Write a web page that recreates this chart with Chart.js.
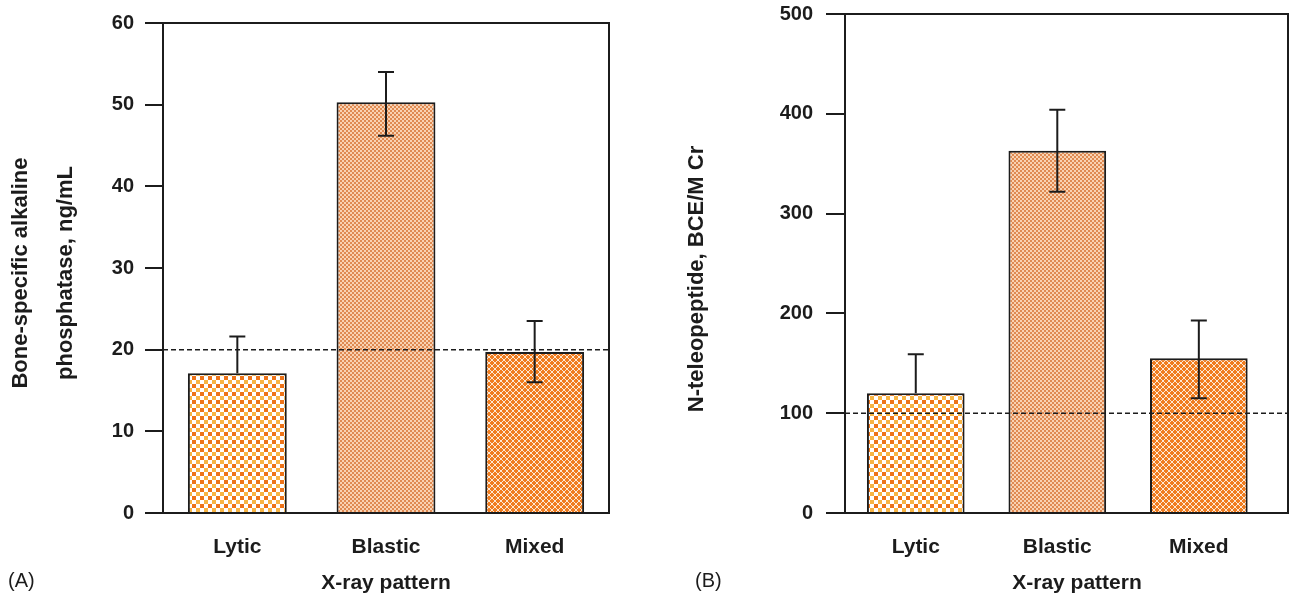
<!DOCTYPE html>
<html>
<head>
<meta charset="utf-8">
<script src="https://cdn.jsdelivr.net/npm/chart.js@4.4.1/dist/chart.umd.min.js"></script>
<style>
  html, body { margin: 0; padding: 0; background: #fff; }
  #chartA { position: absolute; left: 0; top: 0; }
  #chartB { position: absolute; left: 650px; top: 0; }
</style>
</head>
<body>
<canvas id="chartA" width="640" height="599"></canvas>
<canvas id="chartB" width="639" height="599"></canvas>
<script>
// data
const categories = ["Lytic", "Blastic", "Mixed"];

const bsapMeans = [17.1, 50.3, 19.7];
const bsapErrHigh = [21.6, 54.0, 23.5];
const bsapErrLow = [null, 46.2, 16.0]; // lytic lower whisker hidden in bar
const bsapRef = 20;
const bsapTicks = [0, 10, 20, 30, 40, 50, 60];

const ntxMeans = [120, 363, 155];
const ntxErrHigh = [159, 404, 193];
const ntxErrLow = [null, 322, 115];
const ntxRef = 100;
const ntxTicks = [0, 100, 200, 300, 400, 500];

const ink = "#1c1c1c";
const fontFamily = "'Liberation Sans', Arial, sans-serif";

// fill patterns for the three bars
function makePattern(size, draw) {
  const c = document.createElement("canvas");
  c.width = size;
  c.height = size;
  const g = c.getContext("2d");
  draw(g);
  return document.getElementById("chartA").getContext("2d").createPattern(c, "repeat");
}

const lyticPattern = makePattern(8, (g) => {
  g.fillStyle = "#ffffff";
  g.fillRect(0, 0, 8, 8);
  g.fillStyle = "#ee7418";
  g.fillRect(0, 0, 4, 4);
  g.fillStyle = "#f8b443";
  g.fillRect(4, 4, 4, 4);
});

const blasticPattern = makePattern(4, (g) => {
  g.fillStyle = "#f9d2b2";
  g.fillRect(0, 0, 4, 4);
  g.fillStyle = "#df8a52";
  g.fillRect(0, 0, 2, 2);
  g.fillRect(2, 2, 2, 2);
});

const mixedPattern = makePattern(6, (g) => {
  g.fillStyle = "#f07c1e";
  g.fillRect(0, 0, 6, 6);
  g.fillStyle = "#fde8d4";
  for (let i = 0; i < 6; i++) {
    g.fillRect(i, i, 1, 1);
    g.fillRect(5 - i, i, 1, 1);
  }
});

const barFills = [lyticPattern, blasticPattern, mixedPattern];

// error bars, reference line, frame and the hand-placed texts
function extrasPlugin(cfg) {
  return {
    id: "extras",
    afterDatasetsDraw(chart) {
      const ctx = chart.ctx;
      const area = chart.chartArea;
      const y = chart.scales.y;
      const meta = chart.getDatasetMeta(0);
      ctx.save();

      // dashed reference line
      ctx.strokeStyle = ink;
      ctx.lineWidth = 1.5;
      ctx.setLineDash([5, 3]);
      const ry = y.getPixelForValue(cfg.ref);
      ctx.beginPath();
      ctx.moveTo(area.left, ry);
      ctx.lineTo(area.right, ry);
      ctx.stroke();
      ctx.setLineDash([]);

      // error bars
      ctx.lineWidth = 2;
      meta.data.forEach((bar, i) => {
        const yHi = y.getPixelForValue(cfg.high[i]);
        const low = cfg.low[i];
        const yLo = low == null ? y.getPixelForValue(cfg.means[i]) : y.getPixelForValue(low);
        ctx.beginPath();
        ctx.moveTo(bar.x, yHi);
        ctx.lineTo(bar.x, yLo);
        ctx.moveTo(bar.x - 8, yHi);
        ctx.lineTo(bar.x + 8, yHi);
        if (low != null) {
          ctx.moveTo(bar.x - 8, yLo);
          ctx.lineTo(bar.x + 8, yLo);
        }
        ctx.stroke();
      });

      // top and right frame
      ctx.beginPath();
      ctx.moveTo(area.left, area.top);
      ctx.lineTo(area.right, area.top);
      ctx.lineTo(area.right, area.bottom);
      ctx.stroke();

      // axis titles
      ctx.fillStyle = ink;
      ctx.textAlign = "center";
      ctx.textBaseline = "middle";
      ctx.font = "bold 22px " + fontFamily;
      cfg.yTitle.forEach((line, k) => {
        ctx.save();
        ctx.translate(cfg.yTitleX[k], cfg.yTitleY);
        ctx.rotate(-Math.PI / 2);
        ctx.fillText(line, 0, 0);
        ctx.restore();
      });
      ctx.font = "bold 21px " + fontFamily;
      ctx.fillText("X-ray pattern", cfg.xTitleX, 583);

      ctx.textAlign = "left";
      ctx.font = "20px " + fontFamily;
      ctx.fillText(cfg.panel, cfg.panelX, 581);
      ctx.restore();
    }
  };
}

function axisFont(size) {
  return { family: fontFamily, size: size, weight: "bold" };
}

// drop the label overhang padding so the layout padding sets the plot top
function noOverhang(s) {
  s.paddingTop = 0;
  s.paddingBottom = 0;
}

// (A) bone-specific alkaline phosphatase
new Chart(document.getElementById("chartA"), {
  type: "bar",
  data: {
    labels: categories,
    datasets: [{
      data: bsapMeans,
      backgroundColor: barFills,
      borderColor: ink,
      borderWidth: 2,
      borderSkipped: "bottom",
      barPercentage: 0.665,
      categoryPercentage: 1
    }]
  },
  options: {
    responsive: false,
    animation: false,
    layout: { padding: { top: 23, right: 31, left: 0, bottom: 0 } },
    plugins: { legend: { display: false }, tooltip: { enabled: false } },
    scales: {
      x: {
        grid: { display: false, drawTicks: false },
        border: { display: true, color: ink, width: 2 },
        ticks: { color: ink, font: axisFont(21), padding: 22 },
        afterFit(s) { s.height = 86; }
      },
      y: {
        min: 0,
        max: 60,
        afterBuildTicks(s) { s.ticks = bsapTicks.map((v) => ({ value: v })); },
        grid: { drawOnChartArea: false, tickLength: 18, color: ink, lineWidth: 2 },
        border: { display: true, color: ink, width: 2 },
        ticks: { color: ink, font: axisFont(20), padding: 11 },
        afterFit(s) { s.width = 163; noOverhang(s); }
      }
    }
  },
  plugins: [extrasPlugin({
    means: bsapMeans, high: bsapErrHigh, low: bsapErrLow, ref: bsapRef,
    yTitle: ["Bone-specific alkaline", "phosphatase, ng/mL"],
    yTitleX: [21, 66], yTitleY: 273,
    xTitleX: 386,
    panel: "(A)", panelX: 8
  })]
});

// (B) N-telopeptide
new Chart(document.getElementById("chartB"), {
  type: "bar",
  data: {
    datasets: [{
      data: ntxMeans.map((v, i) => ({ x: i + 1, y: v })),
      backgroundColor: barFills,
      borderColor: ink,
      borderWidth: 2,
      borderSkipped: "bottom",
      barPercentage: 0.69,
      categoryPercentage: 1
    }]
  },
  options: {
    responsive: false,
    animation: false,
    layout: { padding: { top: 14, right: 1, left: 0, bottom: 0 } },
    plugins: { legend: { display: false }, tooltip: { enabled: false } },
    scales: {
      x: {
        type: "linear",
        offset: false,
        min: 0.5,
        max: 3.63,
        afterBuildTicks(s) { s.ticks = categories.map((c, i) => ({ value: i + 1 })); },
        grid: { display: false, drawTicks: false },
        border: { display: true, color: ink, width: 2 },
        ticks: {
          color: ink, font: axisFont(21), padding: 22,
          callback: (v) => categories[v - 1]
        },
        afterFit(s) { s.height = 86; }
      },
      y: {
        min: 0,
        max: 500,
        afterBuildTicks(s) { s.ticks = ntxTicks.map((v) => ({ value: v })); },
        grid: { drawOnChartArea: false, tickLength: 19, color: ink, lineWidth: 2 },
        border: { display: true, color: ink, width: 2 },
        ticks: { color: ink, font: axisFont(20), padding: 13 },
        afterFit(s) { s.width = 195; noOverhang(s); }
      }
    }
  },
  plugins: [extrasPlugin({
    means: ntxMeans, high: ntxErrHigh, low: ntxErrLow, ref: ntxRef,
    yTitle: ["N-teleopeptide, BCE/M Cr"],
    yTitleX: [47], yTitleY: 279,
    xTitleX: 427,
    panel: "(B)", panelX: 45
  })]
});
</script>
</body>
</html>
